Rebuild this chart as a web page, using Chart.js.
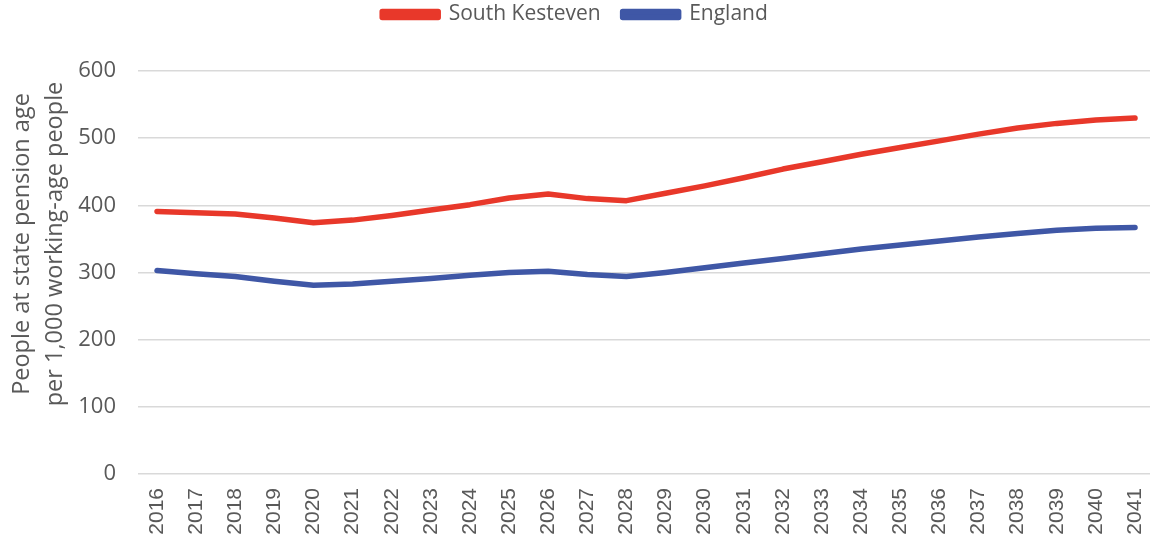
<!DOCTYPE html>
<html>
<head>
<meta charset="utf-8">
<script src="https://cdn.jsdelivr.net/npm/chart.js@4"></script>
<style>
html,body{margin:0;padding:0;background:#fff;}
#wrap{width:1150px;height:540px;position:relative;}
</style>
</head>
<body>
<div id="wrap"><canvas id="c" width="1150" height="540"></canvas></div>
<script>
const years = ['2016','2017','2018','2019','2020','2021','2022','2023','2024','2025','2026','2027','2028','2029','2030','2031','2032','2033','2034','2035','2036','2037','2038','2039','2040','2041'];
const southKesteven = [391,389,387,381,374,378,385,393,401,411,417,410,407,418,429,441,454,465,476,486,496,506,515,522,527,530];
const england = [303,298,294,287,281,283,287,291,296,300,302,297,294,300,307,314,321,328,335,341,347,353,358,363,366,367];
const yTicks = [0,100,200,300,400,500,600];
const yTitleLines = ['People at state pension age','per 1,000 working-age people'];

const grey = '#595959';
const yearNums = years.map(Number);

const yTitlePlugin = {
  id: 'yTitle',
  afterDraw(chart) {
    const ctx = chart.ctx;
    ctx.save();
    ctx.fillStyle = grey;
    ctx.font = '23.5px "Open Sans"';
    ctx.textAlign = 'center';
    ctx.textBaseline = 'middle';
    const cy = 244;
    const xs = [22, 55];
    yTitleLines.forEach((t, i) => {
      ctx.save();
      ctx.translate(xs[i], cy);
      ctx.rotate(-Math.PI / 2);
      ctx.fillText(t, 0, 0);
      ctx.restore();
    });
    ctx.restore();
  }
};

const legendHeightPlugin = {
  id: 'legendHeight',
  beforeInit(chart) {
    const lg = chart.legend;
    if (!lg) return;
    const orig = lg.fit;
    lg.fit = function () {
      orig.call(this);
      this.height = 89;
    };
  }
};

new Chart(document.getElementById('c'), {
  type: 'line',
  data: {
    labels: years,
    datasets: [
      {label: 'South Kesteven', data: southKesteven, borderColor: '#E8382A', backgroundColor: '#E8382A', borderWidth: 5.5, pointRadius: 0, tension: 0, borderCapStyle: 'round', borderJoinStyle: 'round'},
      {label: 'England', data: england, borderColor: '#3F57A6', backgroundColor: '#3F57A6', borderWidth: 5.5, pointRadius: 0, tension: 0, borderCapStyle: 'round', borderJoinStyle: 'round'}
    ]
  },
  options: {
    responsive: false,
    animation: false,
    layout: {padding: {left: 0, right: 0, top: -18, bottom: 0}},
    plugins: {
      legend: {
        position: 'top',
        labels: {
          color: grey,
          font: {family: '"Open Sans"', size: 21},
          boxWidth: 56,
          boxHeight: 6,
          padding: 22
        }
      },
      tooltip: {enabled: false}
    },
    scales: {
      x: {
        type: 'linear',
        min: yearNums[0] - 0.486,
        max: yearNums[yearNums.length - 1] + 0.383,
        afterBuildTicks(s) { s.ticks = yearNums.map(v => ({value: v})); },
        grid: {display: false},
        border: {display: false},
        ticks: {
          color: grey,
          font: {family: '"Liberation Sans"', size: 21},
          maxRotation: 90,
          minRotation: 90,
          autoSkip: false,
          padding: 6,
          callback: v => String(v)
        },
        afterFit(s) { s.height = 66; s.paddingLeft = 0; s.paddingRight = 0; }
      },
      y: {
        min: 0,
        max: 600,
        afterBuildTicks(s) { s.ticks = yTicks.map(v => ({value: v})); },
        grid: {color: '#D9D9D9', lineWidth: 1.5, drawTicks: false},
        border: {display: false},
        ticks: {
          color: grey,
          font: {family: '"Open Sans"', size: 22},
          padding: 22
        },
        afterFit(s) { s.width = 138; s.paddingTop = 0; s.paddingBottom = 0; }
      }
    }
  },
  plugins: [yTitlePlugin, legendHeightPlugin]
});
</script>
</body>
</html>
